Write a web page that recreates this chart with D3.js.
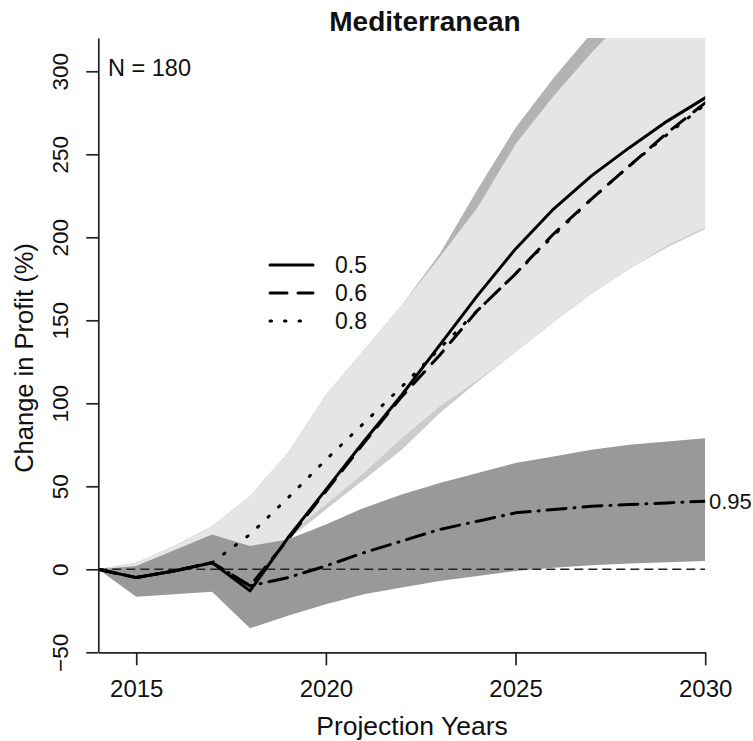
<!DOCTYPE html>
<html>
<head>
<meta charset="utf-8">
<script src="https://cdn.jsdelivr.net/npm/d3@7"></script>
<style>
  html, body { margin: 0; padding: 0; background: #fff; }
  svg { display: block; font-family: "Liberation Sans", Arial, Helvetica, sans-serif; }
</style>
</head>
<body>
<svg id="chart" width="753" height="741"></svg>
<script>
// Projection years
const years = [2014, 2015, 2016, 2017, 2018, 2019, 2020, 2021, 2022, 2023, 2024, 2025, 2026, 2027, 2028, 2029, 2030];

// Median change in profit (%) for each probability level
const p50 = [0, -5, -1, 4, -13, 19, 48, 77, 105, 135, 165, 193, 217, 237, 254, 270, 284];
const p60 = [0, -5, -1, 4, -10, 18, 47, 76, 104, 129, 156, 178, 202, 223, 243, 263, 281];
const p80 = [0, -5, -1, 4, 21, 43, 66, 88, 110, 133, 156, 178, 201, 223, 243, 262, 280];
const p95 = [0, -5, -1, 4, -10, -5, 2, 10, 17, 24, 29, 34, 36, 38, 39, 40, 41];

// Uncertainty envelopes (lower / upper)
const band50Lo = [0, -5, -2, 3, -14, 21, 39, 58, 79, 98, 114, 131, 149, 166, 181, 195, 206];
const band50Hi = [0, 4, 14, 26, 44, 70, 105, 132, 159, 190, 229, 266, 296, 323, 348, 370, 390];
const band60Lo = [0, -5, -2, 3, -14, 18, 36, 54, 72, 94, 113, 131, 149, 166, 181, 194, 205];
const band60Hi = [0, 4, 14, 26, 44, 70, 105, 132, 159, 188, 218, 256, 285, 311, 335, 356, 375];
const band80Lo = [0, -5, -2, 3, -14, 21, 39, 58, 79, 98, 114, 131, 149, 166, 181, 195, 206];
const band80Hi = [0, 4, 14, 26, 44, 70, 105, 132, 159, 188, 218, 256, 285, 311, 335, 356, 375];
const band95Lo = [0, -16.5, -15, -13.5, -35.5, -28, -21, -15, -11, -7, -4, -1, 1, 2.5, 3.5, 4.2, 5];
const band95Hi = [0, 2, 11.5, 21, 14, 18, 27, 37, 45, 52, 58, 64, 68, 72, 75, 77, 79];

// Axis ticks and labels
const xTicks = [2015, 2020, 2025, 2030];
const yTicks = [-50, 0, 50, 100, 150, 200, 250, 300];
const legendLabels = ["0.5", "0.6", "0.8"];
const titleText = "Mediterranean";
const xTitle = "Projection Years";
const yTitle = "Change in Profit (%)";
const nText = "N = 180";
const endLabel = "0.95";

const svg = d3.select("#chart");
const plotLeft = 98.3, plotRight = 705.2, plotTop = 38.1, plotBottom = 652.3;

const x = d3.scaleLinear().domain([2014, 2030]).range([plotLeft, plotRight]);
const y = d3.scaleLinear().domain([-50, 320]).range([plotBottom, plotTop]);

svg.append("defs").append("clipPath").attr("id", "plotClip")
  .append("rect").attr("x", plotLeft).attr("y", plotTop)
  .attr("width", plotRight - plotLeft).attr("height", plotBottom - plotTop);

const plot = svg.append("g").attr("clip-path", "url(#plotClip)");

// Shaded envelopes, drawn widest-to-narrowest so the light band sits on top
const bands = [
  { lo: band50Lo, hi: band50Hi, fill: "#b3b3b3" },
  { lo: band60Lo, hi: band60Hi, fill: "#cccccc" },
  { lo: band80Lo, hi: band80Hi, fill: "#e5e5e5" },
  { lo: band95Lo, hi: band95Hi, fill: "#999999" }
];
bands.forEach(b => {
  const area = d3.area()
    .x((d, i) => x(years[i]))
    .y0((d, i) => y(b.lo[i]))
    .y1((d, i) => y(b.hi[i]));
  plot.append("path").datum(years).attr("d", area).attr("fill", b.fill);
});

// Zero reference line
plot.append("line")
  .attr("x1", x(2014)).attr("x2", x(2030))
  .attr("y1", y(0)).attr("y2", y(0))
  .attr("stroke", "#222").attr("stroke-width", 1.6)
  .attr("stroke-dasharray", "9,5");

// Median lines
const lineStyles = [
  { data: p95, dash: "19,8,1,8" },
  { data: p80, dash: "1.5,13" },
  { data: p60, dash: "17,11" },
  { data: p50, dash: null }
];
lineStyles.forEach(s => {
  const line = d3.line().x((d, i) => x(years[i])).y(d => y(d));
  plot.append("path").datum(s.data).attr("d", line)
    .attr("fill", "none").attr("stroke", "#000").attr("stroke-width", 3)
    .attr("stroke-linecap", "round").attr("stroke-linejoin", "round")
    .attr("stroke-dasharray", s.dash);
});

// Axes
const axisColor = "#222";
const yAxis = svg.append("g").attr("transform", `translate(${plotLeft},0)`)
  .call(d3.axisLeft(y).tickValues(yTicks).tickSize(12).tickSizeOuter(0).tickFormat(d3.format("d")));
const xAxis = svg.append("g").attr("transform", `translate(0,${plotBottom})`)
  .call(d3.axisBottom(x).tickValues(xTicks).tickSize(13).tickSizeOuter(0).tickFormat(d3.format("d")));

[yAxis, xAxis].forEach(a => {
  a.select(".domain").attr("stroke", axisColor).attr("stroke-width", 1.7);
  a.selectAll(".tick line").attr("stroke", axisColor).attr("stroke-width", 1.7);
  a.selectAll(".tick text").attr("fill", "#111")
    .style("font-family", "'Liberation Sans', Arial, sans-serif");
});
yAxis.selectAll(".tick text").style("font-size", "22.5px")
  .attr("x", 0).attr("dy", 0).attr("text-anchor", "middle")
  .attr("transform", "translate(-30,0) rotate(-90)");
xAxis.selectAll(".tick text").style("font-size", "24px").attr("y", 45).attr("dy", 0);

// Titles
svg.append("text").attr("x", 425).attr("y", 31).attr("text-anchor", "middle")
  .style("font-size", "28px").style("font-weight", "bold").attr("fill", "#111").text(titleText);
svg.append("text").attr("x", 412).attr("y", 735).attr("text-anchor", "middle")
  .style("font-size", "26.5px").attr("fill", "#111").text(xTitle);
svg.append("text").attr("text-anchor", "middle")
  .attr("transform", "translate(33,358) rotate(-90)")
  .style("font-size", "25.5px").attr("fill", "#111").text(yTitle);

svg.append("text").attr("x", 108).attr("y", 76)
  .style("font-size", "23.5px").attr("fill", "#111").text(nText);

svg.append("text").attr("x", 709).attr("y", y(p95[p95.length - 1]) + 8)
  .style("font-size", "22px").attr("fill", "#111").text(endLabel);

// Legend
const legendDash = [null, "17,11", "1.5,13"];
const legendY = [265, 293, 321];
legendLabels.forEach((lab, i) => {
  svg.append("line").attr("x1", 270).attr("x2", 313)
    .attr("y1", legendY[i]).attr("y2", legendY[i])
    .attr("stroke", "#000").attr("stroke-width", 3)
    .attr("stroke-linecap", "round").attr("stroke-dasharray", legendDash[i]);
  svg.append("text").attr("x", 335).attr("y", legendY[i] + 8)
    .style("font-size", "23px").attr("fill", "#111").text(lab);
});
</script>
</body>
</html>
